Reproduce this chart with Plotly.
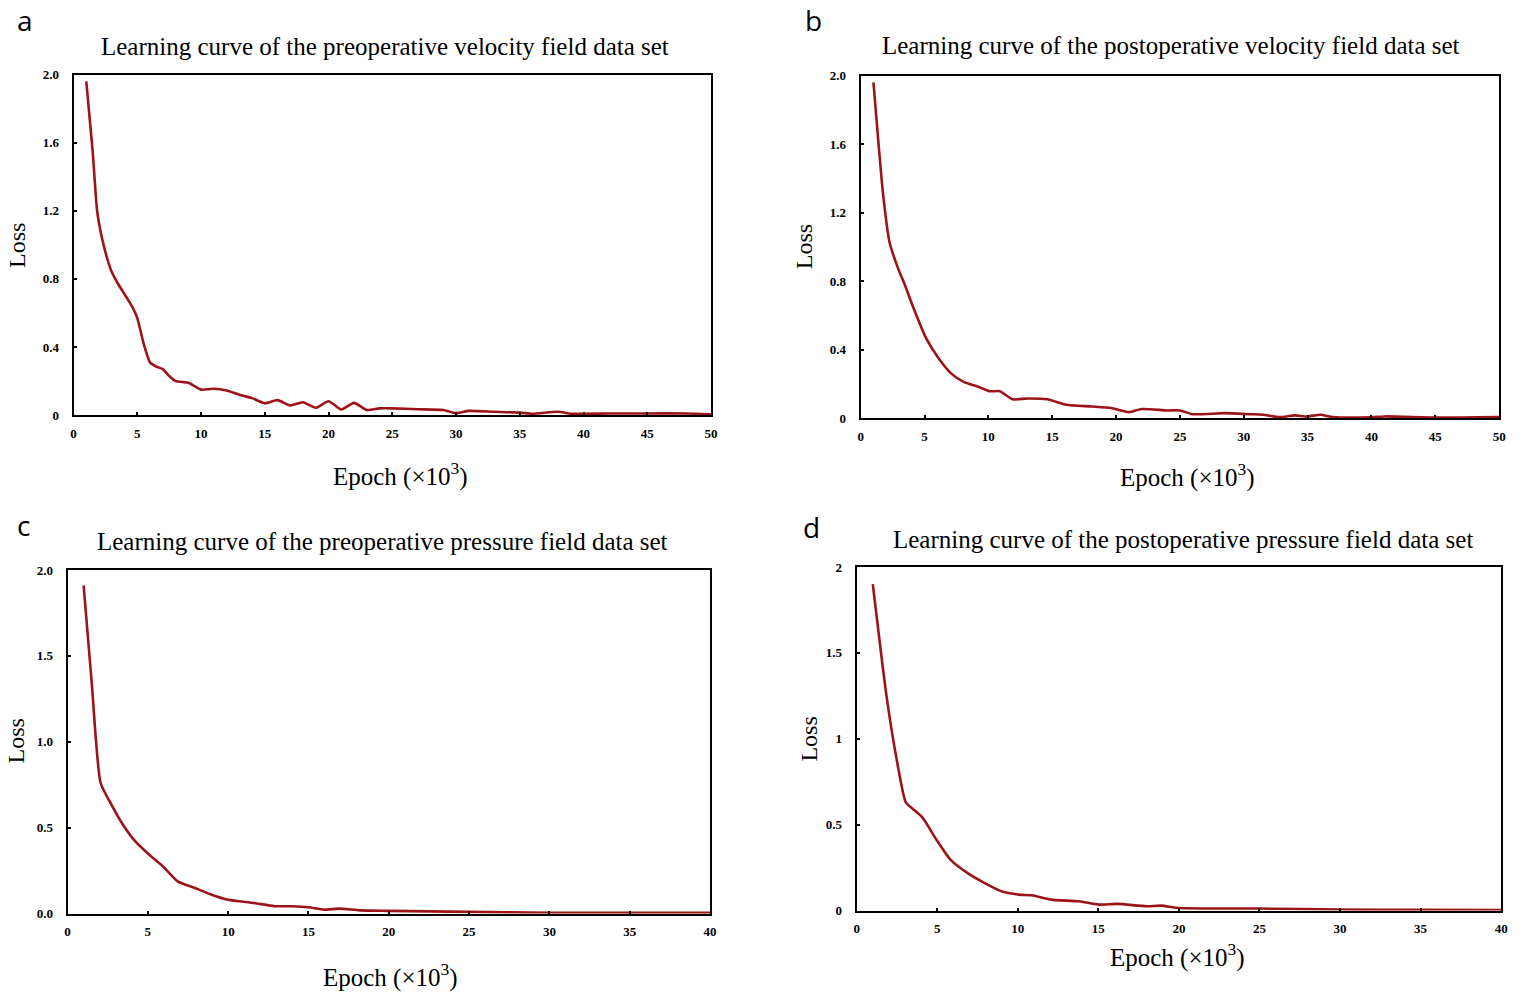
import plotly.graph_objects as go

W, H = 1527, 994

# ---------------- data (epoch x10^3, loss) ----------------
epoch_a = [1, 1.5, 1.85, 2.2, 2.6, 3, 3.5, 4, 4.5, 5, 5.5, 6, 6.5, 7, 7.5, 8, 8.5, 9, 9.5, 10, 11, 12, 13, 14, 15,
           16, 17, 18, 19, 20, 21, 22, 23, 24, 25, 27, 29, 30, 31, 33, 35, 36, 38, 39, 42, 45, 48, 50]
loss_a = [1.96, 1.55, 1.2, 1.05, 0.93, 0.84, 0.77, 0.71, 0.65, 0.57, 0.42, 0.31, 0.285, 0.27, 0.23, 0.2, 0.195,
          0.19, 0.17, 0.15, 0.155, 0.145, 0.12, 0.1, 0.07, 0.088, 0.057, 0.076, 0.043, 0.082, 0.033, 0.072, 0.03,
          0.04, 0.04, 0.035, 0.03, 0.012, 0.025, 0.02, 0.015, 0.008, 0.02, 0.008, 0.01, 0.01, 0.01, 0.005]

epoch_b = [1, 1.4, 1.75, 2.25, 2.9, 3.5, 4.1, 5.1, 6.1, 7.1, 8.1, 9.1, 10.1, 10.9, 11.9, 13.1, 14.6, 16.1, 18.1,
           19.6, 21, 22, 24, 25, 26, 28.5, 30.5, 31.5, 32.8, 34, 35, 36, 37, 40, 41, 45, 50]
loss_b = [1.96, 1.6, 1.31, 1.03, 0.88, 0.77, 0.65, 0.47, 0.35, 0.26, 0.21, 0.186, 0.157, 0.157, 0.11, 0.115, 0.11,
          0.078, 0.068, 0.059, 0.035, 0.053, 0.045, 0.045, 0.023, 0.029, 0.023, 0.02, 0.006, 0.016, 0.01, 0.02,
          0.006, 0.005, 0.01, 0.004, 0.007]

epoch_c = [1, 1.5, 2.06, 2.64, 3.43, 4.22, 5.0, 5.94, 6.86, 7.9, 8.97, 10.0, 11.6, 12.9, 14, 15, 15.96, 16.9, 18.2,
           20, 25, 30, 35, 40]
loss_c = [1.91, 1.35, 0.76, 0.65, 0.52, 0.42, 0.35, 0.275, 0.188, 0.15, 0.11, 0.081, 0.062, 0.043, 0.043, 0.037,
          0.023, 0.029, 0.019, 0.016, 0.01, 0.005, 0.004, 0.004]

epoch_d = [1, 1.85, 2.52, 3.05, 3.44, 4.1, 4.9, 5.83, 6.89, 7.95, 9.0, 10.07, 10.86, 12.05, 13.8, 15, 16.2, 18,
           18.9, 20, 25, 30, 35, 40]
loss_d = [1.9, 1.25, 0.86, 0.63, 0.595, 0.54, 0.42, 0.295, 0.218, 0.16, 0.112, 0.093, 0.089, 0.064, 0.054, 0.035,
          0.039, 0.025, 0.029, 0.015, 0.012, 0.006, 0.004, 0.003]

titles = [
    "Learning curve of the preoperative velocity field data set",
    "Learning curve of the postoperative velocity field data set",
    "Learning curve of the preoperative pressure field data set",
    "Learning curve of the postoperative pressure field data set",
]
panel_letters = ["a", "b", "c", "d"]

xticks_50 = [0, 5, 10, 15, 20, 25, 30, 35, 40, 45, 50]
xticks_40 = [0, 5, 10, 15, 20, 25, 30, 35, 40]
yvals_a = [0, 0.4, 0.8, 1.2, 1.6, 2.0]
ytext_a = ["0", "0.4", "0.8", "1.2", "1.6", "2.0"]
yvals_c = [0, 0.5, 1.0, 1.5, 2.0]
ytext_c = ["0.0", "0.5", "1.0", "1.5", "2.0"]
ytext_d = ["0", "0.5", "1", "1.5", "2"]

# ---------------- layout geometry (target pixels) ----------------
# small correction for how the page is photographed
OFFX, SX = 2.3, 0.9958
OFFY, SY = 6.4, 0.986


def fx(px):
    return ((px - OFFX) / SX) / W


def fy(py):
    return 1 - ((py - OFFY) / SY) / H


boxes = [  # x0, x1, y0(top), y1(bottom)
    (73, 712, 74, 415),
    (862, 1502, 75, 418),
    (67, 711, 570, 914),
    (858, 1504, 567, 911),
]

series = [(epoch_a, loss_a), (epoch_b, loss_b), (epoch_c, loss_c), (epoch_d, loss_d)]
xranges = [50, 50, 40, 40]
xtick_sets = [xticks_50, xticks_50, xticks_40, xticks_40]
ytick_sets = [(yvals_a, ytext_a), (yvals_a, ytext_a), (yvals_c, ytext_c), (yvals_c, ytext_d)]

fig = go.Figure()
LINE = "#9c1418"
serif = "Liberation Serif"

for i, ((ex, lo), (x0, x1, y0, y1)) in enumerate(zip(series, boxes)):
    n = "" if i == 0 else str(i + 1)
    fig.add_trace(go.Scatter(x=ex, y=lo, mode="lines", xaxis="x" + n, yaxis="y" + n,
                             line=dict(color=LINE, width=2.6, shape="spline", smoothing=0.6),
                             showlegend=False, hoverinfo="skip"))
    common = dict(showline=True, linecolor="black", linewidth=2, mirror=True, showgrid=False,
                  zeroline=False, ticks="inside", ticklen=3, tickcolor="black", tickwidth=1.5,
                  tickfont=dict(family=serif, size=13, color="black", weight="bold"))
    fig.update_layout(**{
        "xaxis" + n: dict(domain=[fx(x0), fx(x1)], range=[0, xranges[i]], tickvals=xtick_sets[i],
                          anchor="y" + n, ticklabelstandoff=5, **common),
        "yaxis" + n: dict(domain=[fy(y1), fy(y0)], range=[0, 2.0], tickvals=ytick_sets[i][0],
                          ticktext=ytick_sets[i][1], anchor="x" + n, ticklabelstandoff=10, **common),
    })

title_pos = [(385, 46), (1173, 45), (383, 541), (1185, 539)]
epoch_pos = [(401, 474), (1190, 475), (391, 976), (1180, 956)]
loss_pos = [(17, 245), (806, 246), (15, 741), (810, 739)]
letter_pos = [(24, 19), (815, 19), (23, 525), (813, 527)]

ann = []
for i in range(4):
    tx, ty = title_pos[i]
    ann.append(dict(x=fx(tx), y=fy(ty), xref="paper", yref="paper", text=titles[i], showarrow=False,
                    xanchor="center", yanchor="middle", font=dict(family=serif, size=25, color="black")))
    ex, ey = epoch_pos[i]
    ann.append(dict(x=fx(ex), y=fy(ey), xref="paper", yref="paper", text="Epoch (×10<sup>3</sup>)",
                    showarrow=False, xanchor="center", yanchor="middle",
                    font=dict(family=serif, size=25, color="black")))
    lx, ly = loss_pos[i]
    ann.append(dict(x=fx(lx), y=fy(ly), xref="paper", yref="paper", text="Loss", textangle=-90,
                    showarrow=False, xanchor="center", yanchor="middle",
                    font=dict(family=serif, size=24, color="black")))
    px, py = letter_pos[i]
    ann.append(dict(x=fx(px), y=fy(py), xref="paper", yref="paper", text=panel_letters[i],
                    showarrow=False, xanchor="center", yanchor="middle", height=26, valign="middle",
                    font=dict(family="Open Sans", size=28, color="black")))

fig.update_layout(width=W, height=H, margin=dict(l=0, r=0, t=0, b=0), paper_bgcolor="white",
                  plot_bgcolor="white", annotations=ann)

fig.write_html(
    "out.html",
    config={"displayModeBar": False},
    post_script=("document.body.style.margin='0';document.body.style.padding='0';"
                 "document.documentElement.style.overflow='hidden';document.body.style.overflow='hidden';"),
)
